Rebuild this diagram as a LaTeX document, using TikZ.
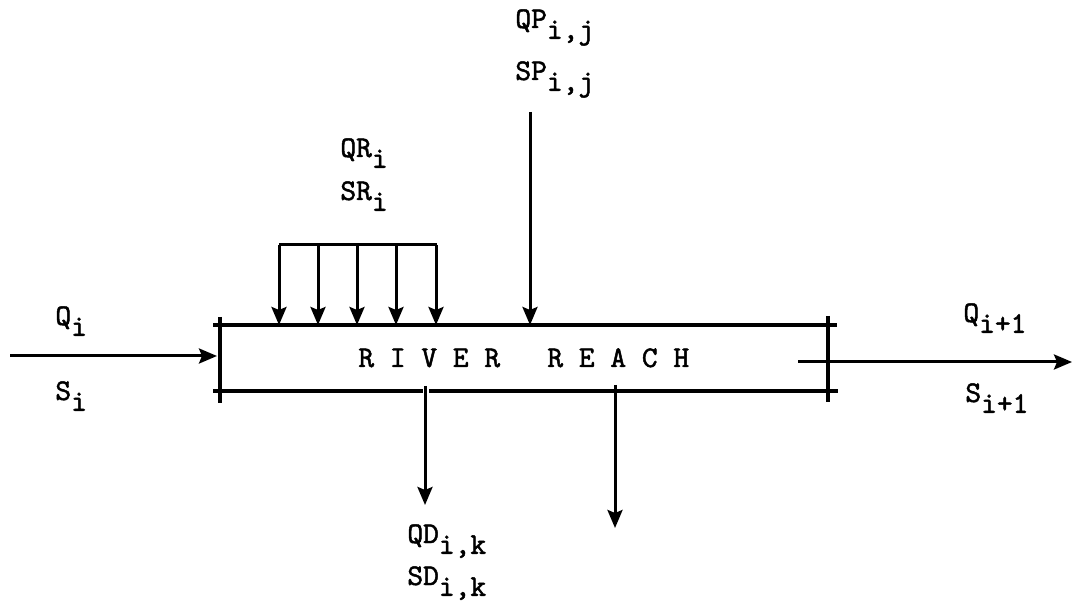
\documentclass[tikz,border=0pt]{standalone}
\usepackage{fontspec}
\newfontfamily\tw{lmmono10-regular.otf}[FakeBold=1.6]
\usetikzlibrary{arrows.meta}
\newcommand{\lowsub}[1]{\raisebox{-0.36em}{#1}}
\begin{document}
\begin{tikzpicture}[x=0.5pt,y=-0.5pt,
  wall/.style={line width=2.3pt},
  flow/.style={line width=1.5pt,-{Stealth[length=9pt,width=7.5pt,inset=1.5pt]}},
  plain/.style={line width=1.5pt},
  lbl/.style={font=\tw\fontsize{15}{18}\selectfont,inner sep=0pt,anchor=base west}]
\useasboundingbox (0,0) rectangle (1074,613);
% box corners
\coordinate (tl) at (213,325);
\coordinate (tr) at (837,325);
\coordinate (bl) at (213,391);
\coordinate (br) at (838,391);
\coordinate (lt) at (220,317);
\coordinate (lb) at (220,403);
\coordinate (rt) at (828,316);
\coordinate (rb) at (828,402);
\coordinate (gapL) at (423,391);
\coordinate (gapR) at (429,391);
\draw[wall] (tl) -- (tr);
\draw[wall] (bl) -- (gapL);
\draw[wall] (gapR) -- (br);
\draw[wall] (lt) -- (lb);
\draw[wall] (rt) -- (rb);
\node[lbl] (river) at (358,367) {R\ I\ V\ E\ R\ \ \ R\ E\ A\ C\ H};
% inflow
\coordinate (inS) at (10,356);
\coordinate (inE) at (217,356);
\draw[flow] (inS) -- (inE);
\node[lbl] (Qi) at (55,325) {Q\lowsub{i}};
\node[lbl] (Si) at (55,400) {S\lowsub{i}};
% outflow
\coordinate (outS) at (798,362);
\coordinate (outE) at (1072,362);
\draw[flow] (outS) -- (outE);
\node[lbl] (Qo) at (963,322) {Q\lowsub{i+1}};
\node[lbl] (So) at (965,402) {S\lowsub{i+1}};
% distributed inflow
\coordinate (barL) at (279,245);
\coordinate (barR) at (437,245);
\draw[plain] (barL) -- (barR);
\foreach \x [count=\k] in {279,318,357,396,436}{
  \coordinate (rt\k) at (\x,245);
  \coordinate (rb\k) at (\x,325);
  \draw[flow] (rt\k) -- (rb\k);
}
\node[lbl] (QR) at (340,157) {QR\lowsub{i}};
\node[lbl] (SR) at (340,200) {SR\lowsub{i}};
% point inflow
\coordinate (pT) at (530,112);
\coordinate (pB) at (530,325);
\draw[flow] (pT) -- (pB);
\node[lbl] (QP) at (515,28) {QP\lowsub{i,j}};
\node[lbl] (SP) at (515,80) {SP\lowsub{i,j}};
% diversions
\coordinate (d1T) at (425,386);
\coordinate (d1B) at (425,505);
\draw[flow] (d1T) -- (d1B);
\coordinate (d2T) at (615,385);
\coordinate (d2B) at (615,528);
\draw[flow] (d2T) -- (d2B);
\node[lbl] (QD) at (407,543) {QD\lowsub{i,k}};
\node[lbl] (SD) at (407,585) {SD\lowsub{i,k}};
\end{tikzpicture}
\end{document}
